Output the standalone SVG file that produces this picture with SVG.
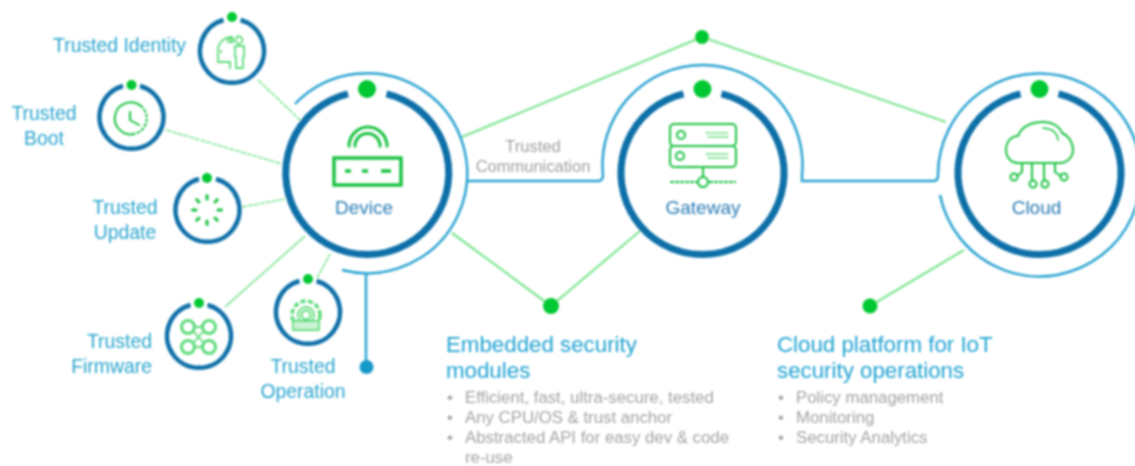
<svg xmlns="http://www.w3.org/2000/svg" width="1135" height="466" viewBox="0 0 1135 466">
<style>
text{font-family:"Liberation Sans",Arial,sans-serif}
.lab{font-size:19.400px;fill:#2ba5cf}
.m{text-anchor:middle}.e{text-anchor:end}
.nm{font-size:19px;fill:#2b7db5;text-anchor:middle}
.h{font-size:22.3px;fill:#22a3d2}
.b{font-size:16.8px;fill:#a3a3a3}
.tc{font-size:16.5px;fill:#a0a0a0;text-anchor:middle}
.thick{fill:none;stroke:#0b6fa8;stroke-width:7}
.ring{fill:none;stroke:#0b6fa8;stroke-width:4.5}
.thin{fill:none;stroke:#2ba3d1;stroke-width:2.5}
.gl{fill:none;stroke:#7ee593;stroke-width:2.2}
.sl{fill:none;stroke:#8fe8a2;stroke-width:1.8}
.ic{fill:none;stroke:#1cc243;stroke-width:2;stroke-linecap:round;stroke-linejoin:round}
.ic2{fill:none;stroke:#5ddb7a;stroke-width:1.8;stroke-linejoin:round}
.dot{fill:#00c832}
</style>
<defs><filter id="soft" x="0" y="0" width="100%" height="100%" filterUnits="userSpaceOnUse" primitiveUnits="userSpaceOnUse"><feGaussianBlur stdDeviation="0.8"/></filter></defs>
<rect width="1135" height="466" fill="#fff"/>
<g filter="url(#soft)">
<g id="connectors">
<path class="gl" d="M462 137L702 37L946 122"/>
<path class="gl" d="M452 233L551 306L640 231"/>
<path class="gl" d="M870 306L964 250"/>
<path class="sl" stroke-dasharray="5 1" d="M258 80L300 120"/>
<path class="sl" stroke-dasharray="5 1" d="M166 130L282 164"/>
<path class="sl" stroke-dasharray="5 1" d="M242 207L285 199"/>
<path class="sl" d="M225 307L305 236"/>
<path class="sl" stroke-dasharray="5 1" d="M317 278L330 254"/>
<path class="thin" d="M467 181H598Q603 181 603 175"/>
<path class="thin" d="M802 175V181H933Q938 181 938 176"/>
<path class="thin" d="M366 273V367"/>
<circle cx="702" cy="37" r="7" class="dot"/>
<circle cx="551" cy="306" r="8" class="dot"/>
<circle cx="870" cy="306" r="7.500" class="dot"/>
<circle cx="366.500" cy="367" r="7" fill="#1898c9"/>
</g>
<g id="device">
<path class="thin" d="M295 104A100 100 0 1 1 342 270"/>
<path class="thick" d="M348 93.800A81.500 81.500 0 1 0 386.500 93.800"/>
<circle cx="367" cy="89" r="9" class="dot"/>
<path class="ic" style="stroke-width:3" d="M349 146A19 19 0 0 1 387 146M355 146A12.500 12.500 0 0 1 380 146"/>
<rect x="334" y="158" width="67" height="27" class="ic" style="stroke-width:3.500;stroke-linecap:butt;stroke-linejoin:miter"/>
<path class="ic" style="stroke-width:3.500;stroke-linecap:butt" d="M345 171H351M362 171H368M381 171H391"/>
<text x="364" y="214" class="nm">Device</text>
</g>
<g id="gateway">
<path class="thin" d="M603 175A100 100 0 1 1 802 175"/>
<path class="thick" d="M683.500 93.800A81.500 81.500 0 1 0 721.500 93.800"/>
<circle cx="702.500" cy="89" r="9" class="dot"/>
<rect x="670" y="124" width="66" height="22" rx="4" class="ic"/>
<rect x="670" y="146" width="66" height="21" rx="4" class="ic"/>
<circle cx="681" cy="135" r="4" class="ic"/>
<circle cx="680" cy="156" r="4" class="ic"/>
<path class="ic2" stroke-dasharray="2 1" d="M706 133H728M708 137H729M706 154H728M708 158H729"/>
<path class="ic" d="M703 167V176"/>
<circle cx="703" cy="182" r="5" class="ic" stroke-dasharray="3 1"/>
<path class="ic" style="stroke-linecap:butt" stroke-dasharray="4 1" d="M670 182H697M709 182H736"/>
<text x="703" y="214" class="nm">Gateway</text>
</g>
<g id="cloud">
<path class="thin" d="M938 176A101.500 101.500 0 1 1 940 195"/>
<path class="thick" d="M1020.500 93.800A81.500 81.500 0 1 0 1058.500 93.800"/>
<circle cx="1039.500" cy="89" r="9" class="dot"/>
<path class="ic" d="M1021 163C1011 164 1006 157 1006 150C1006 141 1012 136 1018 136C1021 127 1031 122 1043 122C1053 122 1060 127 1062 133C1069 136 1073 143 1073 150C1073 157 1067 163 1060 163H1021"/>
<path class="ic" style="stroke-width:1.600" d="M1043 128Q1057 129 1058 140"/>
<path class="ic" d="M1022 163V172L1017 176M1032 163V180M1044 163V180M1055 163V172L1061 176"/>
<circle cx="1014" cy="177" r="3.500" class="ic"/>
<circle cx="1033" cy="184" r="3.500" class="ic"/>
<circle cx="1045" cy="184" r="3.500" class="ic"/>
<circle cx="1064" cy="177" r="3.500" class="ic"/>
<text x="1036.500" y="214" class="nm">Cloud</text>
</g>
<g id="trusted-identity">
<path class="ring" d="M223.500 20A32 32 0 1 0 240.500 20"/>
<circle cx="232" cy="17" r="5" class="dot"/>
<path class="ic2" d="M233 37C224 37 218 43 218 50V62H230V69M227 39H233V42H227M221 50V53"/>
<circle cx="239" cy="40" r="3.500" class="ic2"/>
<path class="ic2" d="M235 46H244V57H243V68H236V57H235Z"/>
<text x="186" y="52" class="lab e">Trusted Identity</text>
</g>
<g id="trusted-boot">
<path class="ring" d="M123 86A32 32 0 1 0 140 86"/>
<circle cx="131.500" cy="85" r="5" class="dot"/>
<path class="ic" d="M141 106A16 16 0 1 0 134 134"/>
<path class="ic" stroke-dasharray="2 3" d="M141 106A16 16 0 0 1 134 134"/>
<path class="ic" d="M130 112V120L139 125"/>
<text x="44" y="120" class="lab m">Trusted</text>
<text x="44" y="145" class="lab m">Boot</text>
</g>
<g id="trusted-update">
<path class="ring" d="M199 179A32 32 0 1 0 216 179"/>
<circle cx="207" cy="178" r="5" class="dot"/>
<path class="ic" style="stroke-width:3" d="M207 195.500V199M207 221V224.500M192.500 210H196M218 210H221.500M196.700 199.700L199 202M215 218L217.300 220.300M217.300 199.700L215 202M199 218L196.700 220.300"/>
<text x="125" y="214" class="lab m">Trusted</text>
<text x="125" y="239" class="lab m">Update</text>
</g>
<g id="trusted-firmware">
<path class="ring" d="M190.500 305A32 32 0 1 0 207.500 305"/>
<circle cx="199" cy="303" r="5" class="dot"/>
<g class="ic2"><circle cx="188" cy="327" r="6.500" style="stroke-width:3"/><circle cx="209" cy="327" r="6.500" style="stroke-width:3"/><circle cx="188" cy="347" r="6.500" style="stroke-width:3"/><circle cx="209" cy="347" r="6.500" style="stroke-width:3"/><path d="M194 332L203 342M203 332L194 342M195 327H202M195 347H202"/></g>
<text x="152" y="348" class="lab e">Trusted</text>
<text x="152" y="373" class="lab e">Firmware</text>
</g>
<g id="trusted-operation">
<path class="ring" d="M299.500 281A32 32 0 1 0 316.500 281"/>
<circle cx="308" cy="279" r="5" class="dot"/>
<g class="ic2"><circle cx="306" cy="315" r="14" stroke-dasharray="5 2.500" style="stroke-width:3.500"/><circle cx="306" cy="315" r="8"/><circle cx="306" cy="315" r="4.500" style="stroke-width:2"/><rect x="293" y="321" width="26" height="9" fill="#c9f3d3"/></g>
<text x="303" y="373" class="lab m">Trusted</text>
<text x="303" y="398" class="lab m">Operation</text>
</g>
<g id="trusted-communication">
<text x="533" y="152" class="tc">Trusted</text>
<text x="533" y="172" class="tc">Communication</text>
</g>
<g id="embedded-security">
<text x="446" y="352" class="h">Embedded security</text>
<text x="446" y="378" class="h">modules</text>
<text x="447" y="403" class="b">•</text><text x="465" y="403" class="b">Efficient, fast, ultra-secure, tested</text>
<text x="447" y="423" class="b">•</text><text x="465" y="423" class="b">Any CPU/OS &amp; trust anchor</text>
<text x="447" y="443" class="b">•</text><text x="465" y="443" class="b">Abstracted API for easy dev &amp; code</text>
<text x="465" y="463" class="b">re-use</text>
</g>
<g id="cloud-platform">
<text x="777" y="352" class="h">Cloud platform for IoT</text>
<text x="777" y="378" class="h">security operations</text>
<text x="778" y="403" class="b">•</text><text x="796" y="403" class="b">Policy management</text>
<text x="778" y="423" class="b">•</text><text x="796" y="423" class="b">Monitoring</text>
<text x="778" y="443" class="b">•</text><text x="796" y="443" class="b">Security Analytics</text>
</g>
</g>
</svg>
